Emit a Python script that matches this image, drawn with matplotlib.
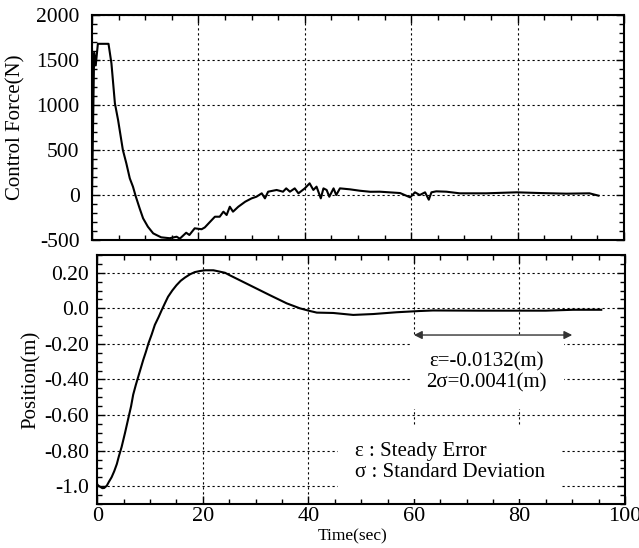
import matplotlib
matplotlib.use('Agg')
import matplotlib.pyplot as plt
from matplotlib.ticker import MultipleLocator

plt.rcParams['font.family'] = ['Liberation Serif', 'DejaVu Serif']

# control force (N) vs time (sec)
force_t = [0.0, 0.4, 0.7, 1.1, 3.1, 3.65, 4.3, 4.9, 5.8, 6.45, 7.1, 7.7, 8.2, 8.95,
           9.6, 10.5, 11.5, 12.1, 13.0, 14.6,
           15.9, 16.5, 17.7, 18.3, 19.3, 20.6, 21.2, 22.2, 23.1, 24.0, 24.7, 25.3,
           25.9, 26.5, 27.5, 28.8, 30.0, 30.9, 31.9, 32.5, 33.1, 34.7, 35.9, 36.5,
           37.2, 38.1, 38.8, 40.0, 40.9, 41.6, 42.2, 43.0, 43.5, 44.1, 44.6, 45.4,
           45.9, 46.6, 48.5, 50.3, 52.3, 54.1, 57.9, 59.8, 60.7, 61.6, 62.6, 63.3,
           63.8, 64.7, 66.6, 69.1, 74.1, 79.8, 84.2, 89.2, 93.5, 95.2]
force_n = [0, 1580, 1440, 1680, 1680, 1463, 1019, 833, 500, 352, 185, 92, -11, -148,
           -259, -352, -426, -444, -470, -480,
           -463, -485, -419, -444, -370, -380, -360, -297, -241, -241, -185, -222,
           -130, -185, -130, -74, -37, -19, 19, -37, 37, 56, 37, 74,
           37, 74, 19, 74, 130, 56, 93, -37, 74, 56, -19, 74,
           0, 74, 63, 48, 36, 37, 22, -26, 30, 0, 30, -52,
           30, 41, 37, 19, 19, 30, 22, 15, 19, -7]

# position (m) vs time (sec)
pos_t = [0.0, 0.2, 0.95, 1.3, 1.8, 2.2, 2.7, 3.2, 3.7, 4.1, 4.6, 5.25, 5.9, 6.4,
         6.8, 7.3, 7.8, 8.7, 9.2, 9.7, 10.3, 10.9, 11.6, 12.2, 12.8, 13.4, 14.2,
         15.0, 15.8, 16.6, 17.6, 18.5, 19.5, 20.4, 22.0, 24.2, 25.1, 28.9, 32.7,
         35.9, 38.4, 40.3, 41.6, 44.7, 48.5, 52.3, 56.7, 61.1, 63.6, 72.4, 85.0,
         90.2, 95.5]
pos_m = [-0.99, -0.997, -1.011, -1.01, -0.997, -0.975, -0.95, -0.916, -0.875, -0.83,
         -0.78, -0.70, -0.615, -0.55, -0.485, -0.43, -0.38, -0.29, -0.245, -0.196,
         -0.147, -0.093, -0.05, -0.01, 0.028, 0.065, 0.10, 0.13, 0.155, 0.173, 0.192,
         0.204, 0.21, 0.214, 0.214, 0.2, 0.186, 0.13, 0.074, 0.028, 0.0, -0.015,
         -0.024, -0.026, -0.037, -0.032, -0.022, -0.015, -0.012, -0.013, -0.013,
         -0.008, -0.008]

force_ticks = [-500, 0, 500, 1000, 1500, 2000]
pos_ticks = [-1.0, -0.8, -0.6, -0.4, -0.2, 0.0, 0.2]
pos_ticklabels = ['-1.0', '-0.80', '-0.60', '-0.40', '-0.20', '0.0', '0.20']
time_ticks = [0, 20, 40, 60, 80, 100]

err_text = 'ε=-0.0132(m)\n2σ=0.0041(m)'
legend_text = 'ε : Steady Error\nσ : Standard Deviation'

fig = plt.figure(figsize=(6.39, 5.48), dpi=100)
ax1 = fig.add_axes([0.144, 0.562, 0.8326, 0.4106])
ax2 = fig.add_axes([0.1523, 0.0803, 0.8258, 0.4544])

grid_style = dict(color='black', linewidth=0.8, linestyle=(0, (2, 2.5)))


def style_axes(ax):
    for s in ax.spines.values():
        s.set_linewidth(1.5)
    ax.tick_params(which='both', direction='in', top=True, right=True, width=1)
    ax.tick_params(which='major', length=6)
    ax.tick_params(which='minor', length=3.5)
    ax.grid(True, which='major', **grid_style)
    ax.set_axisbelow(True)


# top: control force
ax1.plot(force_t, force_n, color='black', lw=1.5)
ax1.set_xlim(0, 100)
ax1.set_ylim(-500, 2000)
ax1.set_xticks(time_ticks)
ax1.set_xticklabels([])
ax1.xaxis.set_minor_locator(MultipleLocator(5))
ax1.set_yticks(force_ticks)
ax1.set_yticklabels([str(v) for v in force_ticks], fontsize=15.5)
ax1.yaxis.set_minor_locator(MultipleLocator(100))
style_axes(ax1)
ax1.tick_params(axis='y', pad=9)
ax1.set_ylabel('Control Force(N)', fontsize=15)
ax1.yaxis.set_label_coords(-0.125, 0.5)

# bottom: position
ax2.plot(pos_t, pos_m, color='black', lw=1.5)
ax2.set_xlim(0, 100)
ax2.set_ylim(-1.1, 0.3)
ax2.set_xticks(time_ticks)
ax2.set_xticklabels([str(v) for v in time_ticks], fontsize=16)
ax2.xaxis.set_minor_locator(MultipleLocator(5))
ax2.set_yticks(pos_ticks)
ax2.set_yticklabels(pos_ticklabels, fontsize=15.5)
ax2.yaxis.set_minor_locator(MultipleLocator(0.05))
style_axes(ax2)
ax2.tick_params(axis='y', pad=6)
ax2.tick_params(axis='x', pad=2)
ax2.set_ylabel('Position(m)', fontsize=15)
ax2.yaxis.set_label_coords(-0.107, 0.5)
ax2.set_xlabel('Time(sec)', fontsize=12.5)
ax2.xaxis.set_label_coords(0.483, -0.098)

ax2.text(73.8, -0.36, err_text, fontsize=15, ha='center', va='center',
         linespacing=1.15, zorder=3,
         bbox=dict(boxstyle='square,pad=0.8', facecolor='white', edgecolor='none'))
ax2.text(48.8, -0.865, legend_text, fontsize=15, ha='left', va='center',
         linespacing=1.15, zorder=3,
         bbox=dict(boxstyle='square,pad=0.8', facecolor='white', edgecolor='none'))
ax2.annotate('', xy=(60, -0.15), xytext=(90, -0.15), zorder=5,
             arrowprops=dict(arrowstyle='<|-|>', color='#333333', lw=1.0,
                             mutation_scale=12, shrinkA=0, shrinkB=0))

fig.savefig('out.png', dpi=100)
